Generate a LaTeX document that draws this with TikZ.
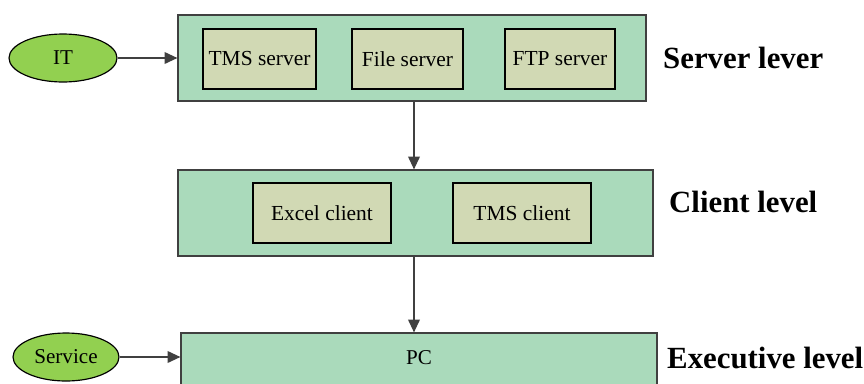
\documentclass[tikz,border=0pt]{standalone}
\usepackage{fontspec}
\setmainfont{Liberation Serif}
\usetikzlibrary{shapes.geometric,arrows.meta,calc}

\definecolor{levelgreen}{RGB}{170,218,187}
\definecolor{unitkhaki}{RGB}{209,217,180}
\definecolor{actorgreen}{RGB}{146,208,80}
\definecolor{linegray}{RGB}{64,64,64}

\tikzset{
  level/.style={draw=linegray,line width=1pt,fill=levelgreen,inner sep=0pt},
  unit/.style={draw=black,line width=1pt,fill=unitkhaki,inner sep=0pt,
    minimum height=60*0.03cm,font=\fontsize{18.3}{21}\selectfont},
  actor/.style={ellipse,draw=black,line width=1pt,fill=actorgreen,inner sep=0pt,
    minimum height=48*0.03cm,font=\fontsize{18}{21}\selectfont},
  levelname/.style={anchor=west,inner sep=0pt,font=\fontsize{26.3}{29}\selectfont\bfseries},
  flow/.style={draw=linegray,line width=1.3pt,-{Triangle[length=11pt,width=10pt]}}
}

\begin{document}
\begin{tikzpicture}[x=0.03cm,y=-0.03cm]
				  \useasboundingbox (0,0) rectangle (864,383);
				  \clip (0,0) rectangle (864,383);
				  %LEVELS
				  \node[level,minimum width=468*0.03cm,minimum height=86*0.03cm](server) at (412,58) {};
				  \node[level,minimum width=475*0.03cm,minimum height=86*0.03cm](client) at (415.5,213) {};
				  \node[level,minimum width=476*0.03cm,minimum height=86*0.03cm](pc) at (419,376) {};
				  \node[font=\fontsize{18}{21}\selectfont](pctext) at (419,358) {PC};
				  %SERVERS
				  \node[unit,minimum width=113*0.03cm](tmsserver) at (259.5,59) {TMS server};
				  \node[unit,minimum width=111*0.03cm](fileserver) at (407.5,59) {File server};
				  \node[unit,minimum width=110*0.03cm](ftpserver) at (560,59) {FTP server};
				  %CLIENTS
				  \node[unit,minimum width=138*0.03cm](excelclient) at (322,213) {Excel client};
				  \node[unit,minimum width=138*0.03cm](tmsclient) at (522,213) {TMS client};
				  %ACTORS
				  \node[actor,minimum width=108*0.03cm](it) at (63,58) {IT};
				  \node[actor,minimum width=106*0.03cm](service) at (66,357) {Service};
				  %LEVEL NAMES
				  \node[levelname](serverlever) at (663,58) {Server lever};
				  \node[levelname](clientlevel) at (669,202) {Client level};
				  \node[levelname](executivelevel) at (667,358) {Executive level};
				  %ARROWS
				  \draw[flow] (it.east) -- (it.east -| server.west);
				  \draw[flow] (service.east) -- (service.east -| pc.west);
				  \draw[flow] ($(server.south)+(2,0)$) -- ($(server.south |- client.north)+(2,0)$);
				  \draw[flow] ($(client.south)+(-1.5,0)$) -- ($(client.south |- pc.north)+(-1.5,0)$);
				  \end{tikzpicture}
\end{document}
